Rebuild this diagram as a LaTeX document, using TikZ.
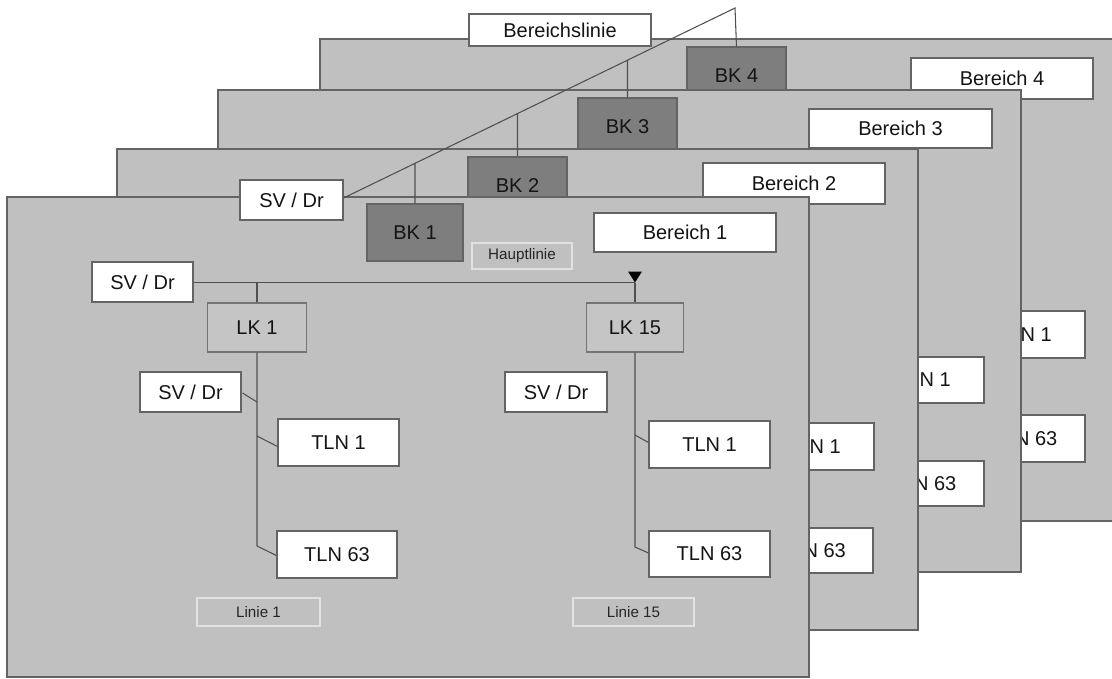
\documentclass[tikz,border=0pt]{standalone}
\usepackage{fontspec}
\setmainfont{Liberation Sans}
\usetikzlibrary{calc,intersections}
\definecolor{panelc}{RGB}{192,192,192}
\definecolor{edgec}{RGB}{100,100,100}
\definecolor{bkc}{RGB}{126,126,126}
\definecolor{lkc}{RGB}{197,197,197}
\definecolor{linec}{RGB}{80,80,80}
\definecolor{lblc}{RGB}{226,226,226}
\definecolor{txtc}{RGB}{20,20,20}
\begin{document}
\begin{tikzpicture}[x=0.75pt,y=-0.75pt,
  panel/.style={draw=edgec, fill=panelc, line width=0.8pt},
  sz/.style 2 args={minimum width=#1*0.75pt, minimum height=#2*0.75pt},
  basebox/.style={inner sep=0pt, line width=0.8pt, text=txtc, font=\fontsize{15}{16}\selectfont},
  wbox/.style={basebox, draw=edgec, fill=white},
  bkbox/.style={basebox, draw=edgec, fill=bkc},
  lkbox/.style={basebox, draw=edgec!90, fill=lkc},
  lbl/.style={inner sep=0pt, draw=lblc, fill=panelc, line width=0.8pt, text=black!85, font=\fontsize{11.4}{12}\selectfont},
  conn/.style={draw=linec, line width=0.8pt}
]
\useasboundingbox (0,0) rectangle (1112,678);
\clip (0,0) rectangle (1112,678);
\fill[white] (0,0) rectangle (1112,678);

% ---------- Bereich 4 (back) ----------
\filldraw[panel] (320,39) rectangle (1120,521);
\node[bkbox, sz={99}{58}] (bk4) at (736.5,76) {BK 4};
\node[wbox, sz={182}{41}] (ber4) at (1002,78.5) {Bereich 4};
\node[wbox, sz={121}{47}] (tln1d) at (1024.5,334.5) {TLN 1};
\node[wbox, sz={121}{47}] (tln63d) at (1024.5,438.5) {TLN 63};

% ---------- Bereich 3 ----------
\filldraw[panel] (218,90) rectangle (1021,572);
\node[bkbox, sz={99}{58}] (bk3) at (627.5,127) {BK 3};
\node[wbox, sz={183}{39}] (ber3) at (900.5,128.5) {Bereich 3};
\node[wbox, sz={121}{46}] (tln1c) at (923.5,380) {TLN 1};
\node[wbox, sz={121}{45}] (tln63c) at (923.5,483.5) {TLN 63};

% ---------- Bereich 2 ----------
\filldraw[panel] (117,149) rectangle (918,630);
\node[bkbox, sz={99}{58}] (bk2) at (517.5,186) {BK 2};
\node[wbox, sz={182}{41}] (ber2) at (794,183.5) {Bereich 2};
\node[wbox, sz={121}{47}] (tln1b2) at (813.5,446.5) {TLN 1};
\node[wbox, sz={120}{45}] (tln63b2) at (813,550.5) {TLN 63};

% ---------- Bereich 1 (front) ----------
\filldraw[panel] (7,197) rectangle (809,677);
\node[bkbox, sz={96}{57}] (bk1) at (415,232.5) {BK 1};
\node[wbox, sz={182}{39}] (ber1) at (685,232.5) {Bereich 1};
\node[lbl, sz={100}{26}] (haupt) at (522,256) {Hauptlinie};
\node[wbox, sz={101}{40}] (sv1) at (142.5,282) {SV / Dr};
\node[lkbox, sz={99}{49}] (lk1) at (257,327.5) {LK 1};
\node[lkbox, sz={97}{49}] (lk15) at (635,327.5) {LK 15};
\node[wbox, sz={101}{40}] (svl1) at (190.5,392) {SV / Dr};
\node[wbox, sz={102}{40}] (svl15) at (556,392) {SV / Dr};
\node[wbox, sz={121}{47}] (tln1a) at (338.5,442.5) {TLN 1};
\node[wbox, sz={120}{47}] (tln63a) at (337,554.5) {TLN 63};
\node[wbox, sz={121}{47}] (tln1b) at (709.5,444.5) {TLN 1};
\node[wbox, sz={121}{46}] (tln63b) at (709.5,554) {TLN 63};
\node[lbl, sz={123}{28}] (linie1) at (258.5,612) {Linie 1};
\node[lbl, sz={121}{28}] (linie15) at (633.5,612) {Linie 15};

% Hauptlinie
\coordinate (hend) at (635,282.5);
\draw[conn] (sv1.east |- hend) -- (hend);
\draw[conn] (hend) -- (lk15.north);
\fill[black] ($(hend)+(-7,-11)$) -- ($(hend)+(7,-11)$) -- (hend) -- cycle;
\draw[conn] (lk1.north |- hend) -- (lk1.north);

% Linie 1
\coordinate (b1end) at (257,546);
\coordinate (j1) at (257,402);
\coordinate (j2) at (257,436);
\draw[conn] (lk1.south) -- (b1end) -- ($(tln63a.west)+(0,1)$);
\draw[conn] ($(svl1.east)+(1,1)$) -- (j1);
\draw[conn] (j2) -- ($(tln1a.west)+(0,4)$);

% Linie 15
\coordinate (b15end) at (635,547);
\coordinate (j3) at (635,435);
\draw[conn] (lk15.south) -- (b15end) -- ($(tln63b.west)+(0,-1)$);
\draw[conn] (j3) -- ($(tln1b.west)+(0,-2)$);

% ---------- Bereichslinie ----------
\coordinate (top) at (735,8);
\coordinate (blstart) at (343,198);
\node[wbox, sz={103}{40}] (svt) at (291.5,200) {SV / Dr};
\draw[conn] (svt.east) ++(0,-2) -- (top) -- (bk4.north);
\path[name path=blpath] (blstart) -- (top);
\path[name path=v1] (bk1.north) -- ++(0,-300);
\path[name path=v2] (bk2.north) -- ++(0,-300);
\path[name path=v3] (bk3.north) -- ++(0,-300);
\draw[conn, name intersections={of=blpath and v1}] (bk1.north) -- (intersection-1);
\draw[conn, name intersections={of=blpath and v2}] (bk2.north) -- (intersection-1);
\draw[conn, name intersections={of=blpath and v3}] (bk3.north) -- (intersection-1);
\node[wbox, sz={182}{32}] (bl) at (560,30) {Bereichslinie};
\end{tikzpicture}
\end{document}
